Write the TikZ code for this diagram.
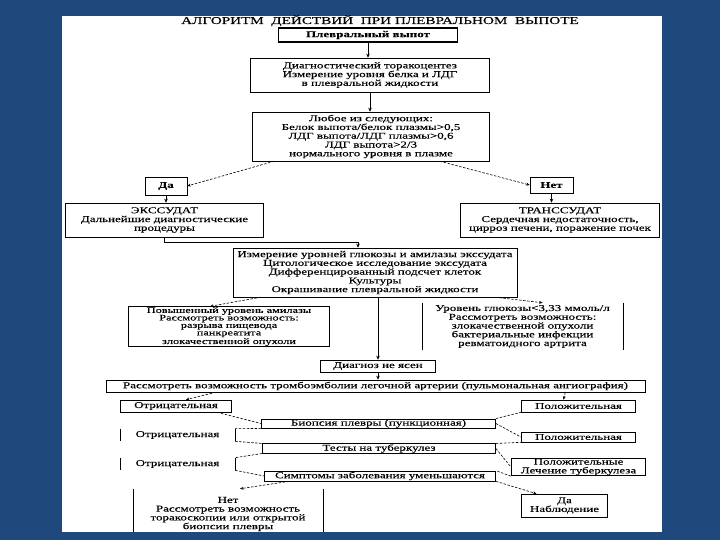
\documentclass[tikz,border=0pt]{standalone}
\usepackage{fontspec}
\setmainfont{Liberation Serif}
\newfontfamily\boxfont{Liberation Serif}[FakeStretch=1.45,FakeBold=0.2]
\usetikzlibrary{arrows.meta}
\definecolor{slideblue}{HTML}{1F497D}
\tikzset{
  box/.style={draw, line width=0.7bp, align=center, inner sep=0.5bp, font={\boxfont\fontsize{9}{8.8}\selectfont}},
  sidebox/.style={box, draw=none},
  arr/.style={line width=0.7bp, -{Stealth[length=4bp,width=3.5bp]}},
  darr/.style={line width=0.6bp, dash pattern=on 2.5bp off 1.5bp, -{Stealth[length=3.5bp,width=3bp]}},
  dline/.style={line width=0.6bp, dash pattern=on 2.5bp off 1.5bp}
}
\begin{document}
\begin{tikzpicture}[x=1bp, y=-1bp]
\useasboundingbox (0,0) rectangle (720,540);
\fill[slideblue] (0,0) rectangle (720,540);
\fill[white] (62,16) rectangle (662,532);
\node[anchor=base, font={\boxfont\fontsize{10.5}{12}\selectfont}] (title) at (380,24) {АЛГОРИТМ\ \ ДЕЙСТВИЙ\ \ ПРИ\ ПЛЕВРАЛЬНОМ\ \ ВЫПОТЕ};
\node[box, line width=1.5bp, minimum width=180, minimum height=14, font={\boxfont\bfseries\fontsize{9}{8.8}\selectfont}] (pv) at (368,35) {Плевральный выпот};
\node[box, minimum width=240, minimum height=34] (dt) at (370,75) {Диагностический торакоцентез\\ Измерение уровня белка и ЛДГ\\ в плевральной жидкости};
\node[box, minimum width=238, minimum height=49] (lc) at (371,136.5) {Любое из следующих:\\ Белок выпота/белок плазмы>0,5\\ ЛДГ выпота/ЛДГ плазмы>0,6\\ ЛДГ выпота>2/3\\ нормального уровня в плазме};
\node[box, minimum width=42, minimum height=18, font={\boxfont\bfseries\fontsize{9}{8.8}\selectfont}] (da) at (166,186) {Да};
\node[box, minimum width=43, minimum height=16, font={\boxfont\bfseries\fontsize{9}{8.8}\selectfont}] (net) at (551.5,185) {Нет};
\node[box, minimum width=199, minimum height=34] (ex) at (164.5,220) {ЭКССУДАТ\\ Дальнейшие диагностические\\ процедуры};
\node[box, minimum width=200, minimum height=34] (tr) at (560,220) {ТРАНССУДАТ\\ Сердечная недостаточность,\\ цирроз печени, поражение почек};
\node[box, minimum width=285, minimum height=49] (im) at (375,272.5) {Измерение уровней глюкозы и амилазы экссудата\\ Цитологическое исследование экссудата\\ Дифференцированный подсчет клеток\\ Культуры\\ Окрашивание плевральной жидкости};
\node[box, minimum width=202, minimum height=39, font={\boxfont\fontsize{8.5}{7.5}\selectfont}] (am) at (229,326.5) {Повышенный уровень амилазы\\ Рассмотреть возможность:\\ разрыва пищевода\\ панкреатита\\ злокачественной опухоли};
\node[sidebox, minimum width=201, minimum height=47] (gl) at (522.5,326.5) {Уровень глюкозы<3,33 ммоль/л\\ Рассмотреть возможность:\\ злокачественной опухоли\\ бактериальные инфекции\\ ревматоидного артрита};
\node[box, minimum width=115, minimum height=12] (dn) at (378,366) {Диагноз не ясен};
\node[box, minimum width=541, minimum height=12] (te) at (375.5,386) {Рассмотреть возможность тромбоэмболии легочной артерии (пульмональная ангиография)};
\node[box, minimum width=112, minimum height=12] (neg1) at (176,406) {Отрицательная};
\node[box, minimum width=115, minimum height=12] (pos1) at (578.5,406) {Положительная};
\node[box, minimum width=235, minimum height=9] (bi) at (378.5,423.5) {Биопсия плевры (пункционная)};
\node[sidebox, minimum width=115, minimum height=12] (neg2) at (177.5,435) {Отрицательная};
\node[box, minimum width=115, minimum height=10] (pos2) at (578.5,437) {Положительная};
\node[box, minimum width=234, minimum height=9] (tb) at (379,448.5) {Тесты на туберкулез};
\node[sidebox, minimum width=115, minimum height=12] (neg3) at (177.5,464) {Отрицательная};
\node[box, minimum width=135, minimum height=16] (pt) at (578.5,467) {Положительные\\ Лечение туберкулеза};
\node[box, minimum width=232, minimum height=10] (sy) at (380,476) {Симптомы заболевания уменьшаются};
\node[sidebox, minimum width=190, minimum height=50] (no) at (228,514) {Нет\\ Рассмотреть возможность\\ торакоскопии или открытой\\ биопсии плевры};
\node[box, minimum width=87, minimum height=23] (yes) at (564.5,505.5) {Да\\ Наблюдение};
\draw[line width=0.7bp] (gl.north west) -- (gl.south west) (gl.north east) -- (gl.south east);
\draw[line width=0.7bp] (neg2.north west) -- (neg2.south west) (neg2.north east) -- (neg2.south east);
\draw[line width=0.7bp] (neg3.north west) -- (neg3.south west) (neg3.north east) -- (neg3.south east);
\draw[line width=0.7bp] (no.north west) -- (no.south west) (no.north east) -- (no.south east);
\draw[arr] (pv.south) -- (pv.south |- dt.north);
\draw[arr] (dt.south) -- (dt.south |- lc.north);
\draw[darr] ([xshift=22bp]lc.south west) -- (da.east);
\draw[darr] ([xshift=-50bp]lc.south east) -- (net.west);
\draw[arr] (da.south) -- (da.south |- ex.north);
\draw[arr] (net.south) -- (net.south |- tr.north);
\draw[arr] (ex.south) -- ++(0,5) -| ([xshift=-17bp]im.north);
\draw[darr] ([xshift=28bp]im.south west) -- ([xshift=-19bp]am.north);
\draw[darr] ([xshift=-22bp]im.south east) -- ([xshift=20bp]gl.north);
\draw[arr] (dn.north |- im.south) -- (dn.north);
\draw[arr] (dn.south) -- (dn.south |- te.north);
\draw[darr] ([xshift=110bp]te.south west) -- ([xshift=10bp]neg1.north);
\draw[darr] ([xshift=-80bp]te.south east) -- ([xshift=-15bp]pos1.north);
\draw[dline] ([xshift=-15bp]neg1.south east) -- (bi.west);
\draw[dline] (bi.north east) -- (pos1.south west);
\draw[dline] (bi.east) -- (pos2.west);
\draw[dline] (bi.south west) -- (neg2.north east);
\draw[dline] (neg2.south east) -- (tb.north west);
\draw[dline] (tb.north east) -- (pos2.south west);
\draw[dline] (tb.east) -- (pt.west);
\draw[dline] (tb.south west) -- (neg3.north east);
\draw[dline] (neg3.south east) -- (sy.west);
\draw[dline] (pt.south west) -- (sy.north east);
\draw[darr] ([xshift=25bp]sy.south west) -- ([xshift=12bp]no.north);
\draw[darr] (sy.south east) -- ([xshift=-28bp]yes.north);
\fill[slideblue] (0,532) rectangle (720,540);
\end{tikzpicture}
\end{document}
